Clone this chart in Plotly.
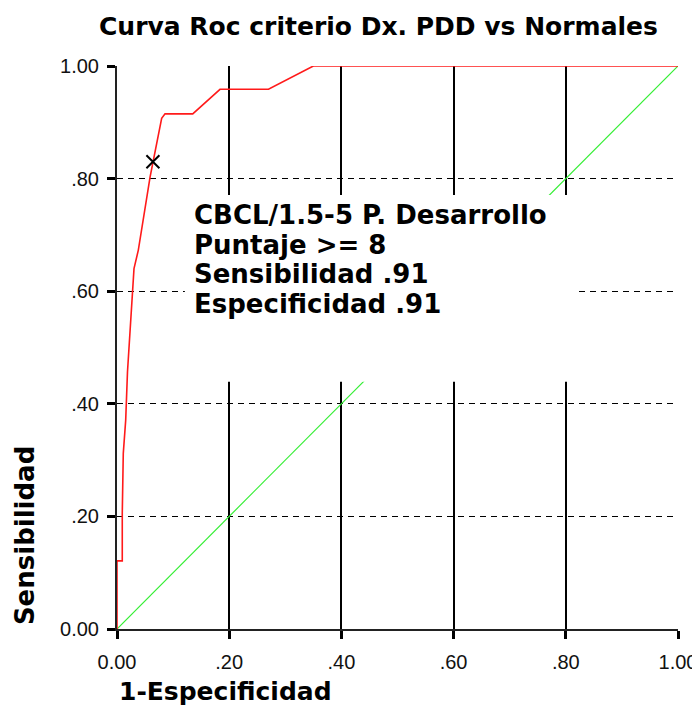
import plotly.graph_objects as go

# ROC curve (1-Especificidad, Sensibilidad)
roc_fpr = [0.0, 0.0, 0.0094, 0.0094, 0.0112, 0.0155, 0.0187, 0.0232, 0.0273, 0.0303,
           0.038, 0.059, 0.0796, 0.0856, 0.135, 0.1836, 0.27, 0.35, 1.0]
roc_tpr = [0.0, 0.121, 0.121, 0.2055, 0.312, 0.371, 0.457, 0.528, 0.593, 0.64,
           0.673, 0.803, 0.907, 0.915, 0.915, 0.9586, 0.9586, 1.0, 1.0]
ref_x = [0.0, 1.0]
ref_y = [0.0, 1.0]
cut_x = [0.064]
cut_y = [0.83]

tick_vals = [0, 0.2, 0.4, 0.6, 0.8, 1.0]
tick_text = ["0.00", ".20", ".40", ".60", ".80", "1.00"]

title_text = "Curva Roc criterio Dx. PDD vs Normales"
x_title = "1-Especificidad"
y_title = "Sensibilidad"
box_lines = ["CBCL/1.5-5 P. Desarrollo", "Puntaje &gt;= 8", "Sensibilidad .91", "Especificidad .91"]

fig = go.Figure()
fig.add_trace(go.Scatter(x=ref_x, y=ref_y, mode="lines",
                         line=dict(color="#33ee33", width=1.2), showlegend=False, hoverinfo="skip"))
fig.add_trace(go.Scatter(x=roc_fpr, y=roc_tpr, mode="lines",
                         line=dict(color="#ff1a1a", width=1.6), showlegend=False))
fig.add_trace(go.Scatter(x=cut_x, y=cut_y, mode="markers",
                         marker=dict(symbol="x-thin", size=13, line=dict(color="black", width=2)),
                         showlegend=False))

# white box behind the text block
fig.add_shape(type="rect", xref="x", yref="y", x0=0.121, x1=0.823, y0=0.439, y1=0.771,
              fillcolor="white", line=dict(width=0), layer="above")

line_y = [0.735, 0.682, 0.630, 0.577]
for txt, yy in zip(box_lines, line_y):
    fig.add_annotation(x=0.1337, y=yy, xref="x", yref="y", text=txt, showarrow=False,
                       xanchor="left", yanchor="middle",
                       font=dict(family="DejaVu Sans", size=26, color="black", weight="bold"))

fig.add_annotation(text=title_text, xref="paper", yref="paper", x=0.466, y=1.0, yshift=40,
                   showarrow=False, xanchor="center", yanchor="middle",
                   font=dict(family="DejaVu Sans", size=25, color="black", weight="bold"))
fig.add_annotation(text=x_title, xref="paper", yref="paper", x=0.0, y=0.0, yshift=-62,
                   showarrow=False, xanchor="left", yanchor="middle",
                   font=dict(family="DejaVu Sans", size=25, color="black", weight="bold"))
fig.add_annotation(text=y_title, xref="paper", yref="paper", x=0.0, xshift=-92, y=0.165,
                   showarrow=False, textangle=-90, xanchor="center", yanchor="middle",
                   font=dict(family="DejaVu Sans", size=26, color="black", weight="bold"))

axis_common = dict(range=[0, 1], tickvals=tick_vals, ticktext=tick_text, automargin=False,
                   ticks="outside", ticklen=8, tickwidth=3, tickcolor="black",
                   showline=True, linecolor="#222", linewidth=2, zeroline=False,
                   tickfont=dict(family="Liberation Sans", size=20, color="#111"),
                   gridcolor="black", fixedrange=True)
fig.update_xaxes(**axis_common, gridwidth=2, griddash="solid", ticklabelstandoff=6)
fig.update_yaxes(**axis_common, gridwidth=1, griddash="6px,5px", ticklabelstandoff=4)

# page body has an 8px margin: size the figure so the plot area lands where the reference has it
fig.update_layout(width=692, height=699, margin=dict(l=109, r=22, t=58, b=78),
                  plot_bgcolor="white", paper_bgcolor="white", showlegend=False)

fig.write_html("out.html")
